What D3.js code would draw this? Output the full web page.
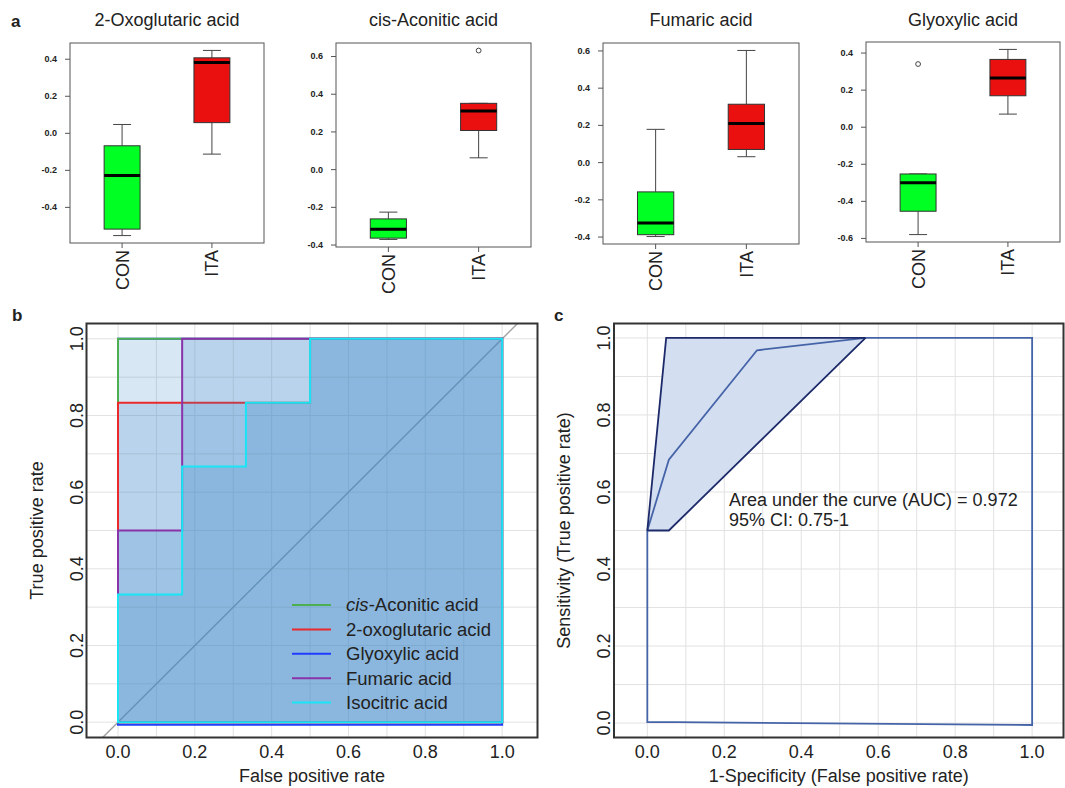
<!DOCTYPE html>
<html>
<head>
<meta charset="utf-8">
<script src="https://cdn.jsdelivr.net/npm/d3@7"></script>
<style>
  body { margin: 0; background: #fff; }
  svg text { font-family: "Liberation Sans", Arial, sans-serif; fill: #222; }
</style>
</head>
<body>
<div id="viz"></div>
<script>
// ---- panel a: boxplot stats [lowWhisker, q1, median, q3, highWhisker]
var metabolites = ["2-Oxoglutaric acid", "cis-Aconitic acid", "Fumaric acid", "Glyoxylic acid"];
var groups = ["CON", "ITA"];
var conStats = [
  [-0.555, -0.52, -0.23, -0.07, 0.045],
  [-0.373, -0.366, -0.319, -0.264, -0.228],
  [-0.40, -0.39, -0.327, -0.16, 0.176],
  [-0.582, -0.456, -0.303, -0.255, -0.255]
];
var itaStats = [
  [-0.115, 0.055, 0.38, 0.405, 0.445],
  [0.06, 0.205, 0.308, 0.349, 0.349],
  [0.029, 0.068, 0.207, 0.311, 0.60],
  [0.068, 0.167, 0.263, 0.363, 0.417]
];
var conOutliers = [[], [], [], [0.338]];
var itaOutliers = [[], [0.629], [], []];

// ---- panel b: ROC steps (false positive rate / true positive rate)
var rocNames = ["Glyoxylic acid", "cis-Aconitic acid", "2-oxoglutaric acid", "Fumaric acid", "Isocitric acid"];
var rocFpr = [
  [0, 0, 1],
  [0, 0, 1],
  [0, 0, 0.5, 0.5, 1],
  [0, 0, 0.167, 0.167, 1],
  [0, 0, 0.167, 0.167, 0.333, 0.333, 0.5, 0.5, 1]
];
var rocTpr = [
  [0, 1, 1],
  [0, 1, 1],
  [0, 0.833, 0.833, 1, 1],
  [0, 0.5, 0.5, 1, 1],
  [0, 0.333, 0.333, 0.667, 0.667, 0.833, 0.833, 1, 1]
];
var rocBase = [-0.007, 0, 0, 0, 0];
var legendOrder = ["cis-Aconitic acid", "2-oxoglutaric acid", "Glyoxylic acid", "Fumaric acid", "Isocitric acid"];

// ---- panel c: combined ROC with 95% CI band
var cFpr = [0, 0, 0.056, 0.285, 0.567, 1];
var cTpr = [0, 0.5, 0.684, 0.968, 1, 1];
var ciUpperFpr = [0, 0.049, 0.567];
var ciUpperTpr = [0.5, 1, 1];
var ciLowerFpr = [0, 0.056, 0.567];
var ciLowerTpr = [0.5, 0.5, 1];
var aucText = ["Area under the curve (AUC) = 0.972", "95% CI: 0.75-1"];

var rocTicks = [0, 0.2, 0.4, 0.6, 0.8, 1.0];

(function() {
  var width = 1065, height = 788;
  var svg = d3.select("#viz").append("svg")
    .attr("width", width).attr("height", height);

  var boxColors = {CON: "#00ff22", ITA: "#ea1010"};
  var rocColors = {
    "Glyoxylic acid": "#1f3cff",
    "cis-Aconitic acid": "#4cb050",
    "2-oxoglutaric acid": "#ea2a2a",
    "Fumaric acid": "#8a33a8",
    "Isocitric acid": "#18e6f5"
  };
  var fmt = function(d) { return (Math.abs(d) < 1e-9 ? 0 : d).toFixed(1); };

  //panel letters
  [["a", 11, 27], ["b", 12, 321], ["c", 554, 321]].forEach(function(p) {
    svg.append("text").attr("x", p[1]).attr("y", p[2])
      .attr("font-size", "17px").attr("font-weight", "bold").text(p[0]);
  });

  // ================= panel a =================
  var aFrames = [
    {l: 70, r: 264, t: 43, b: 243},
    {l: 336, r: 531, t: 43, b: 247},
    {l: 603, r: 799, t: 43, b: 244},
    {l: 866, r: 1060, t: 42, b: 242}
  ];

  metabolites.forEach(function(name, i) {
    var f = aFrames[i];
    var g = svg.append("g");
    var stats = {CON: conStats[i], ITA: itaStats[i]};
    var outs = {CON: conOutliers[i], ITA: itaOutliers[i]};
    var all = conStats[i].concat(itaStats[i], conOutliers[i], itaOutliers[i]);
    var lo = d3.min(all), hi = d3.max(all), pad = (hi - lo) * 0.04;

    var y = d3.scaleLinear().domain([lo - pad, hi + pad]).range([f.b, f.t]);
    var x = d3.scaleLinear().domain([0.42, 2.58]).range([f.l, f.r]);
    var bw = x(1.4) - x(1);

    // title
    g.append("text").attr("x", (f.l + f.r) / 2).attr("y", 26)
      .attr("text-anchor", "middle").attr("font-size", "18px").text(name);

    // y axis
    var yAxis = d3.axisLeft(y).tickValues(d3.range(Math.ceil((lo - pad) / 0.2), Math.floor((hi + pad) / 0.2) + 1).map(function(k) { return k * 0.2; }))
      .tickFormat(fmt).tickSize(5).tickPadding(8);
    var ya = g.append("g").attr("transform", "translate(" + f.l + ",0)").call(yAxis);
    ya.select(".domain").remove();
    ya.selectAll("line").attr("stroke", "#555");
    ya.selectAll("text").attr("font-size", "9px").attr("font-weight", "bold")
      .attr("fill", "#333").style("font-family", "'Liberation Sans', Arial, sans-serif");

    groups.forEach(function(grp, j) {
      var cx = x(j + 1);
      var s = stats[grp];
      // whiskers
      g.append("line").attr("x1", cx).attr("x2", cx).attr("y1", y(s[3])).attr("y2", y(s[4])).attr("stroke", "#444");
      g.append("line").attr("x1", cx).attr("x2", cx).attr("y1", y(s[1])).attr("y2", y(s[0])).attr("stroke", "#444");
      [s[0], s[4]].forEach(function(v) {
        g.append("line").attr("x1", cx - bw / 4).attr("x2", cx + bw / 4)
          .attr("y1", y(v)).attr("y2", y(v)).attr("stroke", "#444");
      });
      // box
      g.append("rect").attr("x", cx - bw / 2).attr("width", bw)
        .attr("y", y(s[3])).attr("height", y(s[1]) - y(s[3]))
        .attr("fill", boxColors[grp]).attr("stroke", "#333").attr("stroke-width", 1);
      g.append("line").attr("x1", cx - bw / 2).attr("x2", cx + bw / 2)
        .attr("y1", y(s[2])).attr("y2", y(s[2])).attr("stroke", "#000").attr("stroke-width", 3);
      // outliers
      outs[grp].forEach(function(v) {
        g.append("circle").attr("cx", cx).attr("cy", y(v)).attr("r", 2.4)
          .attr("fill", "none").attr("stroke", "#444");
      });
      // x tick + label
      g.append("line").attr("x1", cx).attr("x2", cx).attr("y1", f.b).attr("y2", f.b + 5).attr("stroke", "#555");
      g.append("text").attr("transform", "translate(" + (cx + 6.5) + "," + (f.b + 7) + ") rotate(-90)")
        .attr("text-anchor", "end").attr("font-size", "18px").text(grp);
    });

    g.append("rect").attr("x", f.l).attr("y", f.t).attr("width", f.r - f.l).attr("height", f.b - f.t)
      .attr("fill", "none").attr("stroke", "#555").attr("stroke-width", 1);
  });

  // ================= shared ROC frame helper =================
  function rocFrame(f, xlab, ylab, ylabX) {
    var g = svg.append("g");
    var x = d3.scaleLinear().domain(f.xd).range([f.l, f.r]);
    var y = d3.scaleLinear().domain(f.yd).range([f.b, f.t]);
    var clipId = "clip" + Math.round(f.l);
    g.append("clipPath").attr("id", clipId).append("rect")
      .attr("x", f.l).attr("y", f.t).attr("width", f.r - f.l).attr("height", f.b - f.t);
    var grid = g.append("g").attr("clip-path", "url(#" + clipId + ")");
    d3.range(0, 11).forEach(function(k) {
      grid.append("line").attr("x1", x(k / 10)).attr("x2", x(k / 10)).attr("y1", f.t).attr("y2", f.b)
        .attr("stroke", "#e2e2e2").attr("stroke-width", 1);
      grid.append("line").attr("y1", y(k / 10)).attr("y2", y(k / 10)).attr("x1", f.l).attr("x2", f.r)
        .attr("stroke", "#e2e2e2").attr("stroke-width", 1);
    });
    // tick labels
    rocTicks.forEach(function(v) {
      g.append("text").attr("x", x(v)).attr("y", f.b + 20).attr("text-anchor", "middle")
        .attr("font-size", "18px").text(fmt(v));
      g.append("text").attr("transform", "translate(" + (f.l - 4) + "," + y(v) + ") rotate(-90)")
        .attr("text-anchor", "middle").attr("font-size", "18px").text(fmt(v));
    });
    g.append("text").attr("x", (f.l + f.r) / 2).attr("y", 782).attr("text-anchor", "middle")
      .attr("font-size", "18px").text(xlab);
    g.append("text").attr("transform", "translate(" + ylabX + "," + (f.t + f.b) / 2 + ") rotate(-90)")
      .attr("text-anchor", "middle").attr("font-size", "18px").text(ylab);
    return {g: g, x: x, y: y, clip: clipId};
  }

  function border(g, f) {
    g.append("rect").attr("x", f.l).attr("y", f.t).attr("width", f.r - f.l).attr("height", f.b - f.t)
      .attr("fill", "none").attr("stroke", "#333").attr("stroke-width", 2);
  }

  // ================= panel b =================
  var fb = {l: 86.5, r: 537.5, t: 323.5, b: 737.5, xd: [-0.082, 1.092], yd: [-0.04, 1.04]};
  var pb = rocFrame(fb, "False positive rate", "True positive rate", 42.5);
  var xb = pb.x, yb = pb.y;

  pb.g.append("line").attr("x1", xb(-0.04)).attr("y1", yb(-0.04)).attr("x2", xb(1.04)).attr("y2", yb(1.04))
    .attr("stroke", "#a3a3a3").attr("stroke-width", 1.5);

  var line = d3.line().x(function(d) { return xb(d[0]); }).y(function(d) { return yb(d[1]); });
  rocNames.forEach(function(name, i) {
    var pts = d3.zip(rocFpr[i], rocTpr[i]);
    pts.push([1, rocBase[i]], [0, rocBase[i]]);
    pb.g.append("path").attr("d", line(pts) + "Z")
      .attr("fill", i === 0 ? "none" : "rgb(62,135,202)").attr("fill-opacity", 0.2)
      .attr("stroke", rocColors[name]).attr("stroke-width", 2).attr("stroke-linejoin", "miter");
  });

  // legend
  legendOrder.forEach(function(name, i) {
    var ly = 605 + i * 24.4;
    pb.g.append("line").attr("x1", 292).attr("x2", 331).attr("y1", ly).attr("y2", ly)
      .attr("stroke", rocColors[name]).attr("stroke-width", 2);
    var t = pb.g.append("text").attr("x", 346).attr("y", ly + 6.3).attr("font-size", "18.5px");
    if (name.indexOf("cis-") === 0) {
      t.append("tspan").attr("font-style", "italic").text("cis");
      t.append("tspan").text(name.slice(3));
    } else {
      t.text(name);
    }
  });
  border(pb.g, fb);

  // ================= panel c =================
  var fc = {l: 614, r: 1063.5, t: 323.5, b: 737.5, xd: [-0.0866, 1.0815], yd: [-0.0375, 1.0375]};
  var pc = rocFrame(fc, "1-Specificity (False positive rate)", "Sensitivity (True positive rate)", 570);
  var xc = pc.x, yc = pc.y;
  var linec = d3.line().x(function(d) { return xc(d[0]); }).y(function(d) { return yc(d[1]); });

  var upper = d3.zip(ciUpperFpr, ciUpperTpr);
  var lower = d3.zip(ciLowerFpr, ciLowerTpr);
  pc.g.append("path").attr("d", linec(upper.concat(lower.slice().reverse())) + "Z")
    .attr("fill", "#d4def1").attr("stroke", "none");

  var roc = d3.zip(cFpr, cTpr);
  roc.push([1, -0.005], [0, 0.003]);
  pc.g.append("path").attr("d", linec(roc) + "Z").attr("fill", "none")
    .attr("stroke", "#4564a8").attr("stroke-width", 1.8);

  [upper, lower].forEach(function(pts) {
    pc.g.append("path").attr("d", linec(pts)).attr("fill", "none")
      .attr("stroke", "#1c2a6a").attr("stroke-width", 1.8);
  });

  aucText.forEach(function(s, i) {
    pc.g.append("text").attr("x", 729).attr("y", 506 + i * 20).attr("font-size", "18px").text(s);
  });
  border(pc.g, fc);
})();
</script>
</body>
</html>
